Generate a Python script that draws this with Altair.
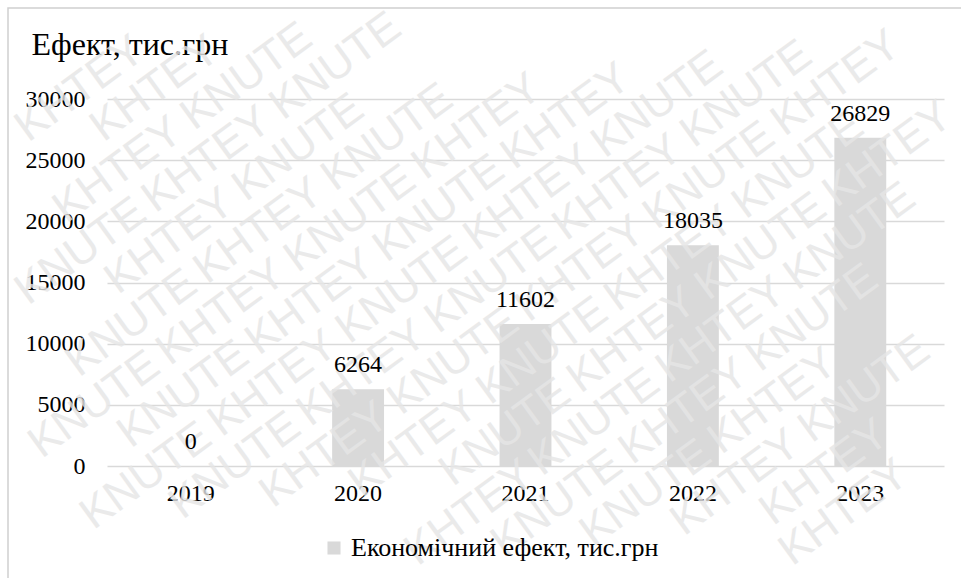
import math
import altair as alt
import pandas as pd

# Economic effect by year, thousand UAH
years = ["2019", "2020", "2021", "2022", "2023"]
effect = [0, 6264, 11602, 18035, 26829]
series_name = "Економічний ефект, тис.грн"
axis_title = "Ефект, тис.грн"
y_ticks = [0, 5000, 10000, 15000, 20000, 25000, 30000]
wm_words = ["KHTEY", "KNUTE"]

W, H = 837, 367
PAD_L, PAD_T, PAD_R, PAD_B = 107, 99, 17, 112
FULL_W, FULL_H = W + PAD_L + PAD_R, H + PAD_T + PAD_B
SERIF = "Liberation Serif, Times New Roman, serif"
BAR_GRAY = "#d9d9d9"

df = pd.DataFrame({"year": years, "value": effect, "series": [series_name] * len(years)})

x_enc = alt.X(
    "year:N",
    sort=years,
    scale=alt.Scale(paddingInner=0, paddingOuter=0),
    axis=alt.Axis(
        title=None, labelAngle=0, ticks=False, domain=False, grid=False,
        labelFont=SERIF, labelFontSize=24, labelColor="#000", labelPadding=15,
    ),
)
y_scale = alt.Scale(domain=[0, 30000], nice=False, zero=True)

bars = alt.Chart(df).mark_bar(width=alt.RelativeBandSize(0.31)).encode(
    x=x_enc,
    y=alt.Y(
        "value:Q",
        scale=y_scale,
        axis=alt.Axis(
            values=y_ticks, format="d", ticks=False, domain=False,
            gridColor=BAR_GRAY, gridWidth=1.3,
            labelFont=SERIF, labelFontSize=24, labelColor="#000", labelPadding=22,
            title=axis_title, titleAngle=0, titleX=-76, titleY=-45,
            titleAlign="left", titleBaseline="alphabetic",
            titleFont=SERIF, titleFontSize=32, titleFontWeight="normal", titleColor="#000",
        ),
    ),
    color=alt.Color(
        "series:N",
        scale=alt.Scale(range=[BAR_GRAY]),
        legend=alt.Legend(
            title=None, orient="none", legendX=214, legendY=436,
            symbolType="square", symbolSize=170, symbolStrokeWidth=0,
            labelFont=SERIF, labelFontSize=26, labelColor="#000", labelLimit=600,
            labelOffset=4,
        ),
    ),
)

labels = alt.Chart(df).mark_text(
    baseline="alphabetic", dy=-17, font=SERIF, fontSize=24, color="#000"
).encode(
    x=alt.X("year:N", sort=years, scale=alt.Scale(paddingInner=0, paddingOuter=0), axis=None),
    y=alt.Y("value:Q", scale=y_scale, axis=None),
    text=alt.Text("value:Q", format="d"),
)

# Outer frame around the chart area
frame = alt.Chart(pd.DataFrame({"f": [1]})).mark_rect(
    filled=False, stroke="#d0d0d0", strokeWidth=1.5
).encode(
    x=alt.value(8 - PAD_L), y=alt.value(8 - PAD_T),
    x2=alt.value(1200), y2=alt.value(800),
)

# Diagonal watermark: alternating words along rotated rows, each word kept
# wholly on the canvas (row ends are slid inwards where there is room)
ang = math.radians(36)
ux, uy = math.cos(ang), -math.sin(ang)      # along the baseline
upx, upy = -math.sin(ang), -math.cos(ang)   # towards the letter tops
vx, vy = math.sin(ang), math.cos(ang)       # from one row to the next
row_step, word_step, word_len = 44, 158, 138
rise, desc, margin = 42, 10, 3


def fits(t, k):
    sx = t * ux + k * row_step * vx
    sy = t * uy + k * row_step * vy
    xs, ys = [], []
    for a in (0, word_len):
        for b in (-desc, rise):
            xs.append(sx + a * ux + b * upx)
            ys.append(sy + a * uy + b * upy)
    return (min(xs) >= margin and max(xs) <= FULL_W - margin
            and min(ys) >= margin and max(ys) <= FULL_H - margin)


rows = []
for k in range(-12, 40):
    ok = [t for t in range(-2500, 2500) if fits(t, k)]
    if not ok:
        continue
    t_lo, t_hi = ok[0], ok[-1]
    phase = (k % 2) * 80
    grid = [j * word_step + phase for j in range(-20, 20)]
    ts = [t for t in grid if t_lo <= t <= t_hi]
    if not ts:
        ts = [t_lo]
    else:
        if ts[0] - t_lo >= word_len + 12:
            ts.insert(0, t_lo)
        if t_hi - ts[-1] >= word_len + 12:
            ts.append(t_hi)
    for t in ts:
        j = round((t - phase) / word_step)
        sx = t * ux + k * row_step * vx
        sy = t * uy + k * row_step * vy
        rows.append({"px": sx - PAD_L, "py": sy - PAD_T, "w": wm_words[(j + k) % 2]})

wm = alt.Chart(pd.DataFrame(rows)).mark_text(
    align="left", baseline="alphabetic", angle=324, font="Liberation Sans",
    fontSize=44, color="#e6e6e6", opacity=0.8,
).encode(
    x=alt.X("px:Q", scale=None, axis=None),
    y=alt.Y("py:Q", scale=None, axis=None),
    text="w:N",
)

chart = alt.layer(frame, bars, wm, labels).resolve_scale(
    x="independent", y="independent"
).properties(
    width=W, height=H,
    autosize=alt.AutoSizeParams(type="none"),
    padding={"left": PAD_L, "top": PAD_T, "right": PAD_R, "bottom": PAD_B},
    background="white",
).configure_view(stroke=None)

chart.save("out.html", embed_options={"renderer": "svg", "actions": False})
